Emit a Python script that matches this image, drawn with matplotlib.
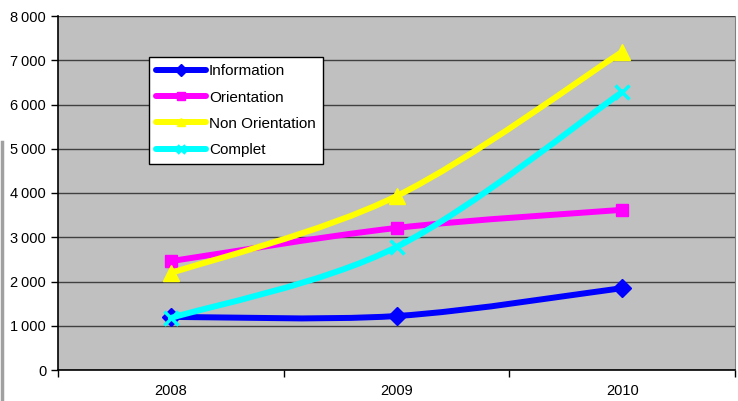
import matplotlib.pyplot as plt
import numpy as np
from matplotlib.path import Path
from matplotlib.patches import PathPatch
from matplotlib.lines import Line2D

plt.rcParams['font.family'] = ['Liberation Sans', 'DejaVu Sans']

# data
years = ["2008", "2009", "2010"]
information = [1200, 1220, 1850]
orientation = [2460, 3210, 3620]
non_orientation = [2190, 3930, 7190]
complet = [1175, 2780, 6280]

series = [
    ("Information", information, "#0000FF", "D", 9),
    ("Orientation", orientation, "#FF00FF", "s", 9),
    ("Non Orientation", non_orientation, "#FFFF00", "^", 11),
    ("Complet", complet, "#00FFFF", "x", 10),
]
y_ticks = [0, 1000, 2000, 3000, 4000, 5000, 6000, 7000, 8000]


def smooth_path(xs, ys):
    """ Catmull-Rom like bezier path through the points (Excel 'smoothed line')."""
    P = np.column_stack([xs, ys]).astype(float)
    ext = np.vstack([P[0], P, P[-1]])
    verts = [P[0]]
    codes = [Path.MOVETO]
    for i in range(len(P) - 1):
        p0, p1, p2, p3 = ext[i], ext[i + 1], ext[i + 2], ext[i + 3]
        verts += [p1 + (p2 - p0) / 6.0, p2 - (p3 - p1) / 6.0, p2]
        codes += [Path.CURVE4] * 3
    return Path(verts, codes)


fig = plt.figure(figsize=(7.38, 4.01), dpi=100)
ax = fig.add_axes([58 / 738, 31 / 401, 677 / 738, 354 / 401])
ax.set_facecolor("#C0C0C0")

x = np.arange(len(years))
handles = []
for name, vals, col, mk, ms in series:
    ax.add_patch(PathPatch(smooth_path(x, vals), fill=False, edgecolor=col,
                           lw=4.3, capstyle='round', joinstyle='round', zorder=3))
    mew = 2.5 if mk == "x" else 1
    ax.plot(x, vals, ls='none', marker=mk, ms=ms, color=col, mec=col, mew=mew, zorder=3)
    handles.append(Line2D([], [], color=col, lw=4.3, solid_capstyle='round',
                          marker=mk, ms=6, mec=col, mew=mew))

ax.set_xlim(-0.5, 2.5)
ax.set_ylim(0, 8000)
ax.set_yticks(y_ticks)
ax.set_yticklabels(["0" if v == 0 else f"{v // 1000}\u2009{v % 1000:03d}" for v in y_ticks],
                   fontsize=10.5)
ax.yaxis.grid(True, color="#404040", lw=1)
ax.set_axisbelow(True)

ax.set_xticks([-0.5, 0.5, 1.5, 2.5])
ax.set_xticklabels([])
ax.set_xticks(x, minor=True)
ax.set_xticklabels(years, minor=True, fontsize=10.5)
ax.tick_params(axis='x', which='minor', length=0, pad=10)
ax.tick_params(axis='both', which='major', direction='out', length=5, width=1, color='black')
ax.tick_params(axis='y', pad=3.5)

for s in ["left", "bottom"]:
    ax.spines[s].set_color("black")
    ax.spines[s].set_linewidth(1.2)
ax.spines["top"].set_visible(False)
ax.spines["right"].set_color("#808080")

leg = ax.legend(handles, [s[0] for s in series], loc='upper left',
                bbox_to_anchor=(0.134, 0.883), borderaxespad=0, fontsize=11,
                handlelength=3.3, handletextpad=0.2, labelspacing=0.8,
                fancybox=False, framealpha=1, edgecolor='black',
                borderpad=0.45)
leg.get_frame().set_linewidth(1)

# thin gray line at the left edge of the picture
fig.add_artist(Line2D([0.003, 0.003], [0, 0.645], color="#A0A0A0", lw=2.5,
                      transform=fig.transFigure))

fig.savefig("out.png", dpi=100)
